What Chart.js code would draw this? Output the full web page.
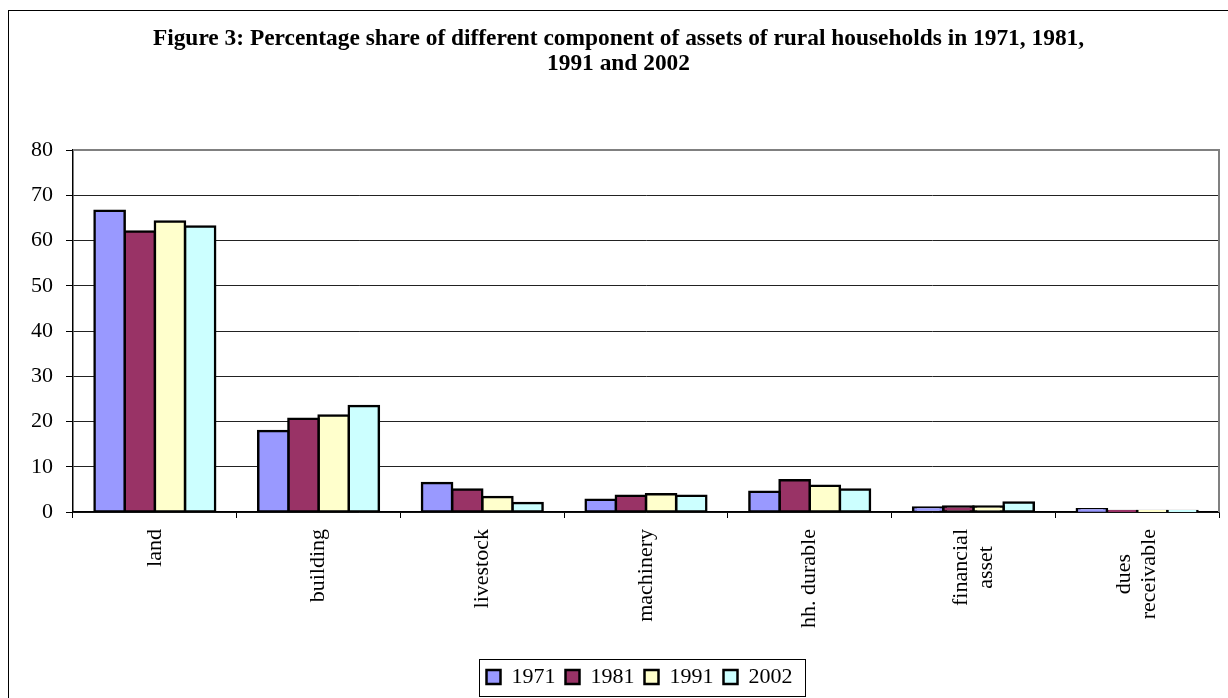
<!DOCTYPE html>
<html>
<head>
<meta charset="utf-8">
<script src="https://cdn.jsdelivr.net/npm/chart.js@4.4.1/dist/chart.umd.min.js"></script>
<style>
  html, body { margin: 0; padding: 0; background: #fff; }
  #wrap { position: relative; width: 1228px; height: 698px; overflow: hidden; }
  #frame { position: absolute; left: 8px; top: 10px; width: 1240px; height: 700px; border: 1px solid #000; box-sizing: border-box; }
  canvas { position: absolute; left: 0; top: 0; }
</style>
</head>
<body>
<div id="wrap">
  <div id="frame"></div>
  <canvas id="c" width="1228" height="698"></canvas>
</div>
<script>
const titleLines = ['Figure 3: Percentage share of different component of assets of rural households in 1971, 1981,', '1991 and 2002'];
const categories = ['land', 'building', 'livestock', 'machinery', 'hh. durable', ['financial', 'asset'], ['dues', 'receivable']];
const seriesNames = ['1971', '1981', '1991', '2002'];
const values1971 = [66.6, 17.9, 6.4, 2.7, 4.5, 1.0, 0.6];
const values1981 = [62.0, 20.6, 5.0, 3.6, 7.0, 1.2, 0.2];
const values1991 = [64.2, 21.3, 3.3, 3.9, 5.8, 1.2, 0.2];
const values2002 = [63.1, 23.4, 2.0, 3.6, 5.0, 2.1, 0.2];
const seriesColors = ['#9999FF', '#993366', '#FFFFCC', '#CCFFFF'];
const yTicks = [0, 10, 20, 30, 40, 50, 60, 70, 80];

const FONT = "'Liberation Serif', 'Times New Roman', serif";
const allValues = [values1971, values1981, values1991, values2002];

const frameAndLabels = {
  id: 'frameAndLabels',
  afterLayout(chart) {
    const lg = chart.legend;
    if (lg) { lg.left += 30; lg.right += 30; }
    const tb = chart.titleBlock;
    if (tb) { tb.left += 9; tb.right += 9; }
  },
  beforeDatasetsDraw(chart) {
    const {ctx, chartArea: a} = chart;
    ctx.save();
    ctx.strokeStyle = '#808080';
    ctx.lineWidth = 2;
    ctx.beginPath();
    ctx.moveTo(a.left, a.top);
    ctx.lineTo(a.right, a.top);
    ctx.lineTo(a.right, a.bottom);
    ctx.stroke();
    ctx.restore();
  },
  afterDraw(chart) {
    const {ctx} = chart;
    const xs = chart.scales.x;
    ctx.save();
    ctx.font = '22px ' + FONT;
    ctx.fillStyle = '#000';
    ctx.textAlign = 'right';
    ctx.textBaseline = 'middle';
    categories.forEach((lab, i) => {
      const lines = Array.isArray(lab) ? lab : [lab];
      const x = xs.getPixelForTick(i);
      const widths = lines.map(l => ctx.measureText(l).width);
      const maxW = Math.max(...widths);
      const n = lines.length;
      lines.forEach((l, j) => {
        const cx = x + (j - (n - 1) / 2) * 25;
        const topY = xs.top + 17 + (maxW - widths[j]) / 2;
        ctx.save();
        ctx.translate(cx, topY);
        ctx.rotate(-Math.PI / 2);
        ctx.fillText(l, 0, 0);
        ctx.restore();
      });
    });
    // legend frame
    const hb = chart.legend && chart.legend.legendHitBoxes;
    if (hb && hb.length) {
      const l = Math.min(...hb.map(h => h.left));
      const r = Math.max(...hb.map(h => h.left + h.width));
      const t = Math.min(...hb.map(h => h.top));
      const b = Math.max(...hb.map(h => h.top + h.height));
      ctx.strokeStyle = '#000';
      ctx.lineWidth = 1;
      ctx.strokeRect(Math.round(l - 8) + 0.5, Math.round(t - 7) + 0.5, Math.round(r - l + 20), Math.round(b - t + 15));
    }
    ctx.restore();
  }
};

new Chart(document.getElementById('c'), {
  type: 'bar',
  data: {
    labels: categories,
    datasets: seriesNames.map((name, i) => ({
      label: name,
      data: allValues[i],
      backgroundColor: seriesColors[i],
      borderColor: '#000',
      borderWidth: 2.5,
      borderSkipped: false,
      inflateAmount: 1.25,
      barPercentage: 1,
      categoryPercentage: 0.737
    }))
  },
  options: {
    responsive: false,
    animation: false,
    devicePixelRatio: 1,
    layout: { padding: { left: 0, right: 9, top: 0, bottom: 0 } },
    plugins: {
      title: {
        display: true,
        text: titleLines,
        color: '#000',
        font: { family: FONT, size: 23.4, weight: 'bold', lineHeight: '25px' },
        padding: { top: 26, bottom: 74 }
      },
      legend: {
        display: true,
        position: 'bottom',
        labels: {
          color: '#000',
          font: { family: FONT, size: 22 },
          boxWidth: 14,
          boxHeight: 14,
          padding: 10
        }
      },
      tooltip: { enabled: false }
    },
    scales: {
      x: {
        type: 'category',
        offset: true,
        grid: {
          offset: true,
          drawOnChartArea: false,
          drawTicks: true,
          tickLength: 6,
          tickColor: '#000',
          color: '#000'
        },
        border: { display: true, color: '#000', width: 1.5 },
        ticks: { display: false },
        afterFit(s) { s.height = 144; }
      },
      y: {
        min: 0,
        max: 80,
        afterBuildTicks(s) { s.ticks = yTicks.map(v => ({ value: v })); },
        ticks: {
          color: '#000',
          font: { family: FONT, size: 22 },
          padding: 13
        },
        grid: {
          color: (c) => (c.tick && c.tick.value === 80) ? 'rgba(0,0,0,0)' : '#222',
          lineWidth: 1,
          drawTicks: true,
          tickLength: 7,
          tickColor: '#000'
        },
        border: { display: true, color: '#000', width: 1.5 },
        afterFit(s) { s.width = 73; }
      }
    }
  },
  plugins: [frameAndLabels]
});
</script>
</body>
</html>
